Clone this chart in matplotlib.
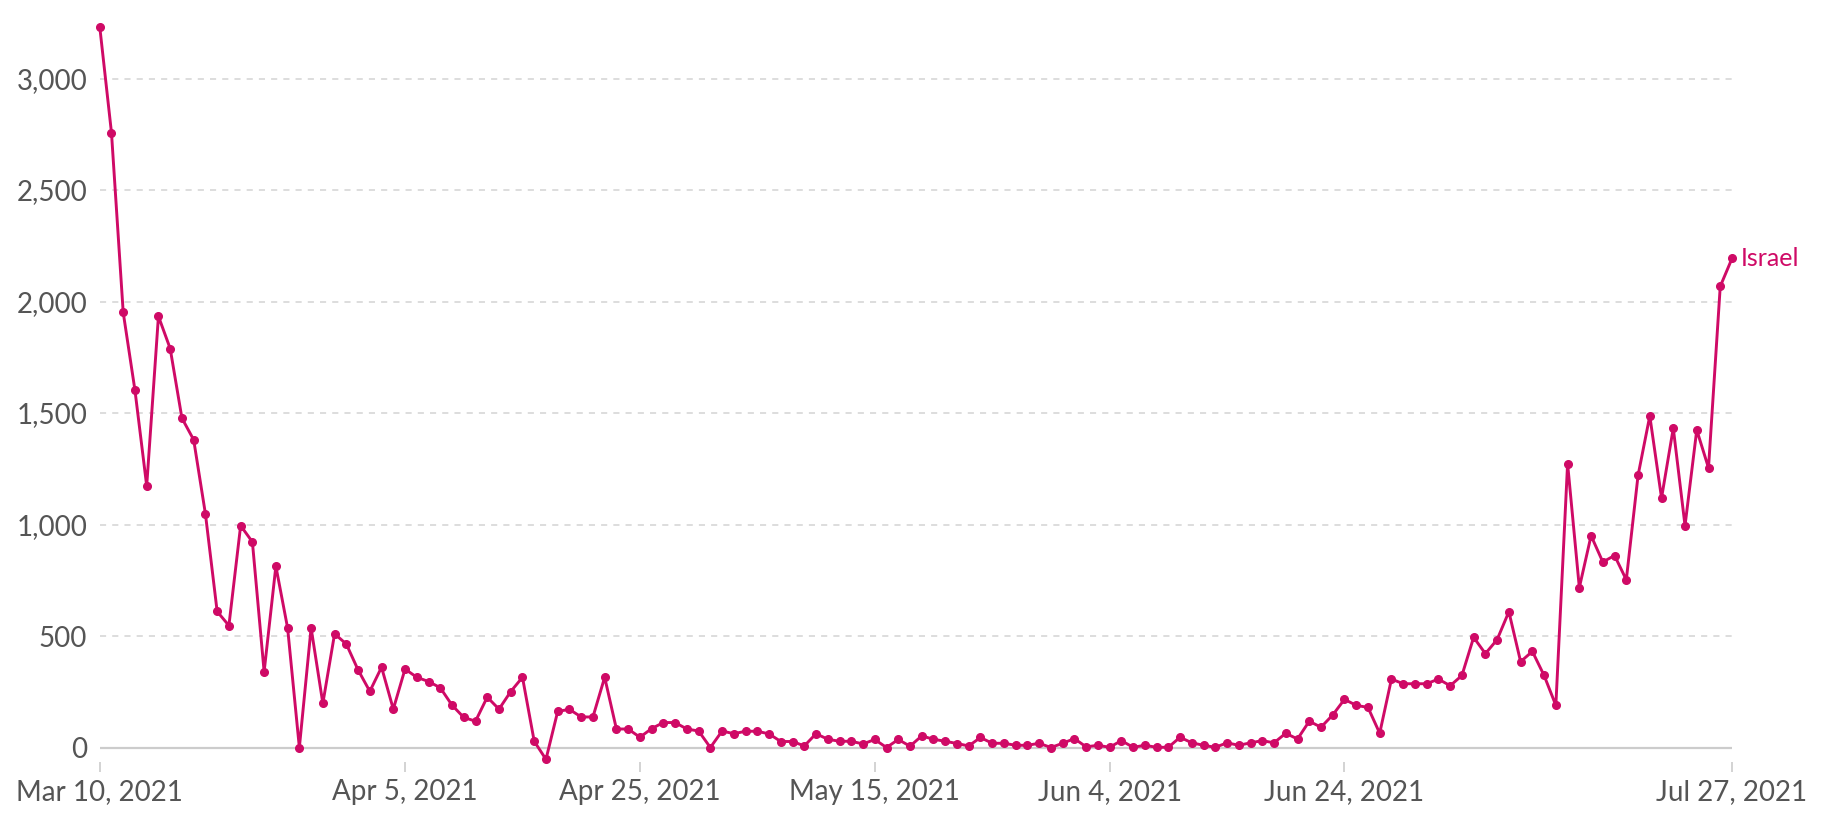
import pandas as pd
import matplotlib
matplotlib.use("Agg")
import matplotlib.pyplot as plt
import matplotlib.dates as mdates

plt.rcParams["font.family"] = ["Lato", "DejaVu Sans"]

# daily values, Mar 10 2021 .. Jul 27 2021
start_date = "2021-03-10"
end_date = "2021-07-27"
israel = [
    3233, 2757, 1951, 1602, 1173, 1934, 1789, 1477, 1380, 1048,
    610, 547, 995, 922, 340, 813, 536, 0, 536, 198,
    510, 464, 348, 252, 360, 172, 352, 315, 296, 268,
    190, 135, 118, 226, 172, 251, 315, 28, -53, 162,
    171, 137, 137, 315, 83, 83, 46, 85, 112, 112,
    83, 74, 0, 74, 62, 73, 73, 61, 27, 27,
    7, 62, 37, 28, 28, 16, 36, 0, 36, 6,
    52, 37, 28, 18, 7, 45, 19, 19, 10, 10,
    19, 0, 19, 40, 3, 10, 1, 31, 1, 10,
    1, 1, 46, 21, 10, 1, 21, 10, 21, 31,
    21, 64, 38, 118, 91, 146, 216, 189, 180, 64,
    307, 286, 286, 286, 307, 277, 323, 494, 421, 484,
    609, 385, 431, 323, 189, 1273, 717, 950, 832, 861,
    752, 1220, 1487, 1119, 1432, 995, 1424, 1254, 2068, 2193,
]
tick_dates = ["2021-03-10", "2021-04-05", "2021-04-25", "2021-05-15",
              "2021-06-04", "2021-06-24", "2021-07-27"]
tick_labels = ["Mar 10, 2021", "Apr 5, 2021", "Apr 25, 2021", "May 15, 2021",
               "Jun 4, 2021", "Jun 24, 2021", "Jul 27, 2021"]
y_ticks = [0, 500, 1000, 1500, 2000, 2500, 3000]
y_labels = ["0", "500", "1,000", "1,500", "2,000", "2,500", "3,000"]

dates = pd.date_range(start_date, end_date, freq="D")
color = "#cf0a66"
grey = "#555555"

fig = plt.figure(figsize=(18.4, 8.23), dpi=100, facecolor="w")
ax = fig.add_axes([0.0542, 0.0741, 0.8871, 0.9077])

ax.plot(dates, israel, color=color, lw=2.1, marker="o", ms=5.5,
        zorder=3, clip_on=False)
ax.annotate("Israel", (dates[-1], israel[-1]), xytext=(6, 0),
            textcoords="offset points", color=color, fontsize=18, va="center")

ax.set_xlim(dates[0], dates[-1])
ax.set_ylim(-65, 3285)

for y in y_ticks[1:]:
    ax.axhline(y, color="#d3d3d3", lw=1.1, ls=(0, (4, 4)), zorder=1)
ax.axhline(0, color="#cccccc", lw=1.6, zorder=2)

ax.set_yticks(y_ticks)
ax.set_yticklabels(y_labels)
ax.set_xticks(pd.to_datetime(tick_dates))
ax.set_xticklabels(tick_labels)
ax.tick_params(axis="y", length=0, pad=9, labelsize=20, labelcolor=grey)
ax.tick_params(axis="x", length=7, width=1.2, color="#cccccc", pad=5,
               labelsize=20, labelcolor=grey)

for s in ax.spines.values():
    s.set_visible(False)

plt.savefig("out.png", dpi=100)
